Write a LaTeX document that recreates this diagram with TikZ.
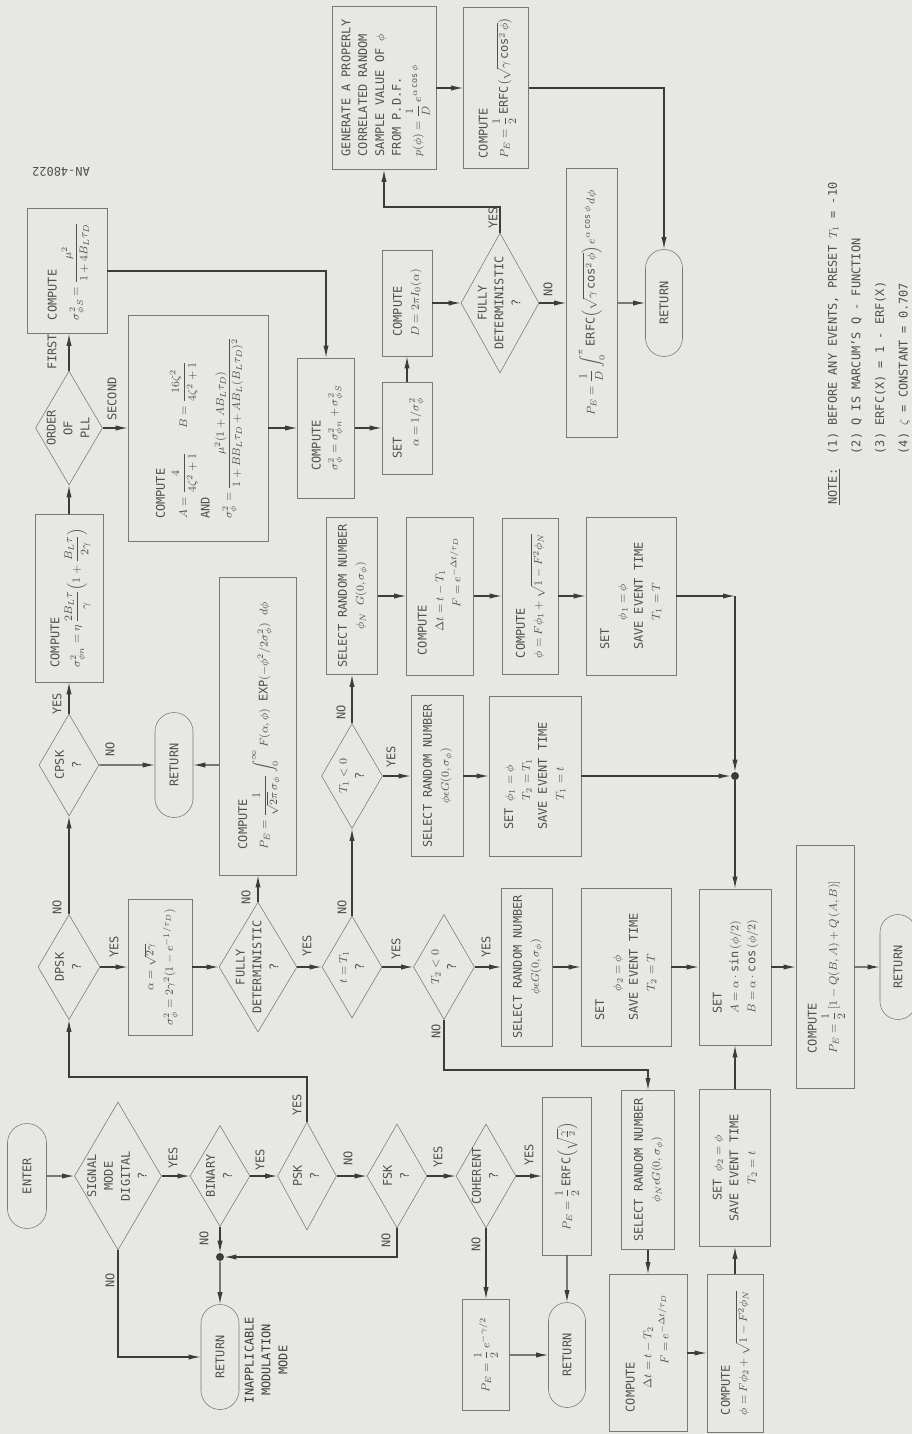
\documentclass[tikz,border=0pt]{standalone}
\usepackage{fontspec}
\usepackage{amsmath}
\setmainfont{DejaVu Sans Mono}
\usetikzlibrary{shapes.geometric,shapes.misc,arrows.meta}
\definecolor{paper}{RGB}{231,231,228}
\definecolor{ink}{RGB}{60,60,60}
\definecolor{frame}{RGB}{120,120,120}
\definecolor{txt}{RGB}{80,80,80}
\newcommand{\ctab}[1]{\begin{tabular}{@{}c@{}}#1\end{tabular}}
\newcommand{\ltab}[1]{\begin{tabular}{@{}l@{}}#1\end{tabular}}

\begin{document}
\begin{tikzpicture}
                [x=0.025cm, y=-0.025cm,
                every node/.style={font=\fontsize{8.5}{12}\selectfont, text=txt},
                sz/.style 2 args={minimum height=#1*0.025cm, minimum width=#2*0.025cm},
                box/.style={rectangle, draw=frame, thin, rotate=90, inner sep=2pt},
                term/.style={rounded rectangle, draw=frame, thin, rotate=90, inner sep=0pt},
                dia/.style={diamond, draw=frame, thin, rotate=90, inner sep=0pt},
                lab/.style={rotate=90, inner sep=0pt},
                dot/.style={circle, fill=ink, inner sep=0pt, minimum size=2mm},
                arrow/.style={->, >={Latex[length=3mm,width=1.3mm]}, draw=ink, line width=0.8pt},
                ]
                \useasboundingbox (0,0) rectangle (912,1434);
                \fill[paper] (0,0) rectangle (912,1434);

                % entry column
                \node[term, sz={39}{105}] (enter) at (27,1176) {ENTER};
                \node[dia, sz={87}{148}] (sig) at (118,1176) {};
                \node[lab] (sigt) at (sig) {\ctab{SIGNAL\\MODE\\DIGITAL\\?}};
                \node[dia, sz={60}{101}] (bin) at (220,1176) {};
                \node[lab] (bint) at (bin) {\ctab{BINARY\\?}};
                \node[dia, sz={59}{108}] (psk) at (307,1176) {};
                \node[lab] (pskt) at (psk) {\ctab{PSK\\?}};
                \node[dia, sz={60}{104}] (fsk) at (397,1176) {};
                \node[lab] (fskt) at (fsk) {\ctab{FSK\\?}};
                \node[dia, sz={60}{104}] (coh) at (486,1176) {};
                \node[lab] (coht) at (coh) {\ctab{COHERENT\\?}};
                \node[box, sz={49}{158}] (pe1) at (567,1176) {$P_E = \dfrac{1}{2}\,\text{ERFC}\Bigl(\sqrt{\tfrac{\gamma}{2}}\Bigr)$};
                \node[box, sz={47}{111}] (pe0) at (486,1355) {$P_E = \dfrac{1}{2}\,e^{-\gamma/2}$};
                \node[term, sz={37}{105}] (ret2) at (567,1355) {RETURN};
                \node[dot] (j1) at (220,1257) {};
                \node[term, sz={38}{105}] (ret1) at (220,1357) {RETURN};
                \node[lab, text=ink] (inap) at (267,1360) {\ctab{INAPPLICABLE\\MODULATION\\MODE}};
                \coordinate (c0) at (307,1077);

                % DPSK row
                \node[dia, sz={62}{105}] (dpsk) at (69,967) {};
                \node[lab] (dpskt) at (dpsk) {\ctab{DPSK\\?}};
                \node[box, sz={64}{136}] (dp) at (160,967) {\ctab{$\alpha = \sqrt{2\gamma}$\\[2pt]$\sigma_\phi^2 = 2\gamma^2(1-e^{-1/\tau_D})$}};
                \node[dia, sz={78}{130}] (det1) at (258,967) {};
                \node[lab] (det1t) at (det1) {\ctab{FULLY\\DETERMINISTIC\\?}};
                \node[dia, sz={60}{102}] (teq) at (352,967) {};
                \node[lab] (teqt) at (teq) {\ctab{$t = T_1$\\?}};
                \node[dia, sz={61}{105}] (ttwo) at (444,967) {};
                \node[lab] (ttwot) at (ttwo) {\ctab{$T_2 < 0$\\?}};
                \node[box, sz={51}{158}] (sel2) at (527,967) {\ctab{SELECT RANDOM NUMBER\\$\phi\epsilon G(0,\sigma_\phi)$}};
                \node[box, sz={90}{158}] (setp2) at (626,967) {\ltab{SET\\\hspace*{2.5em}$\phi_2 = \phi$\\SAVE EVENT TIME\\\hspace*{2.5em}$T_2 = T$}};
                \node[box, sz={72}{156}] (seta) at (735,967) {\ltab{SET\\$A = \alpha\cdot\sin\,(\phi/2)$\\$B = \alpha\cdot\cos\,(\phi/2)$}};
                \node[box, sz={58}{243}] (pe3) at (825,967) {\ltab{COMPUTE\\$P_E = \dfrac{1}{2}\,[1 - Q(B,A) + Q\,(A,B)]$}};
                \node[term, sz={36}{105}] (ret5) at (898,967) {RETURN};
                \coordinate (c2) at (444,1070);

                % CPSK and T1 row
                \node[dia, sz={60}{102}] (cpsk) at (69,765) {};
                \node[lab] (cpskt) at (cpsk) {\ctab{CPSK\\?}};
                \node[term, sz={38}{105}] (ret3) at (174,765) {RETURN};
                \node[box, sz={77}{298}] (pe2) at (258,726) {\ltab{COMPUTE\\$P_E = \dfrac{1}{\sqrt{2\pi}\,\sigma_\phi}\displaystyle\int_0^{\infty} F(\alpha,\phi)\ \text{EXP}(-\phi^2/2\sigma_\phi^2)\ d\phi$}};
                \node[dia, sz={61}{105}] (tone) at (352,776) {};
                \node[lab] (tonet) at (tone) {\ctab{$T_1 < 0$\\?}};
                \node[box, sz={52}{161}] (sel1) at (437,776) {\ctab{SELECT RANDOM NUMBER\\$\phi\epsilon G(0,\sigma_\phi)$}};
                \node[box, sz={92}{160}] (set3) at (535,776) {\ltab{SET $\phi_1 = \phi$\\\hspace*{2.5em}$T_2 = T_1$\\SAVE EVENT TIME\\\hspace*{2.5em}$T_1 = t$}};
                \node[dot] (j2) at (735,776) {};

                \node[box, sz={68}{168}] (sn) at (69,598) {\ltab{COMPUTE\\$\sigma_{\phi n}^2 = \eta\,\dfrac{2B_L\tau}{\gamma}\Bigl(1+\dfrac{B_L\tau}{2\gamma}\Bigr)$}};
                \node[box, sz={51}{157}] (sel3) at (352,596) {\ctab{SELECT RANDOM NUMBER\\$\phi_N\ G(0,\sigma_\phi)$}};
                \node[box, sz={67}{158}] (dt1) at (440,596) {\ltab{COMPUTE\\\hspace*{2em}$\Delta t = t - T_1$\\\hspace*{4em}$F = e^{-\Delta t/\tau_D}$}};
                \node[box, sz={56}{156}] (phi1) at (530,596) {\ltab{COMPUTE\\$\phi = F\phi_1 + \sqrt{1-F^2\phi_N}$}};
                \node[box, sz={90}{158}] (set1) at (631,596) {\ltab{SET\\\hspace*{2.5em}$\phi_1 = \phi$\\SAVE EVENT TIME\\\hspace*{2.5em}$T_1 = T$}};
                \coordinate (c1) at (735,596);

                % PLL part
                \node[dia, sz={67}{114}] (pll) at (69,428) {};
                \node[lab] (pllt) at (pll) {\ctab{ORDER\\OF\\PLL}};
                \node[box, sz={140}{226}] (ab) at (198,428) {\ltab{COMPUTE\\$A = \dfrac{4}{4\zeta^2+1}$\qquad$B = \dfrac{16\zeta^2}{4\zeta^2+1}$\\[3pt]AND\\$\sigma_\phi^2 = \dfrac{\mu^2(1+AB_L\tau_D)}{1+BB_L\tau_D+AB_L(B_L\tau_D)^2}$}};
                \node[box, sz={57}{140}] (sig2) at (326,428) {\ltab{COMPUTE\\$\sigma_\phi^2 = \sigma_{\phi n}^2 + \sigma_{\phi S}^2$}};
                \node[box, sz={50}{92}] (alph) at (407,428) {\ltab{SET\\\hspace*{1em}$\alpha = 1/\sigma_\phi^2$}};
                \node[box, sz={80}{125}] (ss) at (67,271) {\ltab{COMPUTE\\$\sigma_{\phi S}^2 = \dfrac{\mu^2}{1+4B_L\tau_D}$}};
                \node[box, sz={50}{106}] (dbox) at (407,303) {\ltab{COMPUTE\\$D = 2\pi I_0(\alpha)$}};
                \node[dia, sz={78}{140}] (det2) at (500,303) {};
                \node[lab] (det2t) at (det2) {\ctab{FULLY\\DETERMINISTIC\\?}};
                \node[box, sz={51}{269}] (pe5) at (592,303) {$P_E = \dfrac{1}{D}\displaystyle\int_0^{\pi}\text{ERFC}\Bigl(\sqrt{\gamma\cos^2\phi}\Bigr)\,e^{\alpha\cos\phi}\,d\phi$};
                \node[term, sz={37}{107}] (ret4) at (664,303) {RETURN};
                \node[box, sz={104}{163}] (gen) at (384,88) {\ltab{GENERATE A PROPERLY\\CORRELATED RANDOM\\SAMPLE VALUE OF $\phi$\\FROM P.D.F.\\$p(\phi) = \dfrac{1}{D}\,e^{\alpha\cos\phi}$}};
                \node[box, sz={65}{161}] (pe4) at (496,88) {\ltab{COMPUTE\\$P_E = \dfrac{1}{2}\,\text{ERFC}\bigl(\sqrt{\gamma\cos^2\phi}\bigr)$}};
                \coordinate (c3) at (500,207);

                % T2 branch
                \node[box, sz={53}{159}] (sel4) at (648,1170) {\ctab{SELECT RANDOM NUMBER\\$\phi_N\epsilon G(0,\sigma_\phi)$}};
                \node[box, sz={71}{157}] (set2) at (735,1168) {\ctab{SET $\phi_2 = \phi$\\SAVE EVENT TIME\\$T_2 = t$}};
                \node[box, sz={78}{157}] (dt2) at (648,1353) {\ltab{COMPUTE\\\hspace*{2em}$\Delta t = t - T_2$\\\hspace*{4em}$F = e^{-\Delta t/\tau_D}$}};
                \node[box, sz={56}{158}] (phi2) at (735,1353) {\ltab{COMPUTE\\$\phi = F\phi_2 + \sqrt{1-F^2\phi_N}$}};

                % connectors
                \draw[arrow] (enter) -- (sig);
                \draw[arrow] (sig) -- (bin);
                \draw[arrow] (bin) -- (psk);
                \draw[arrow] (psk) -- (fsk);
                \draw[arrow] (fsk) -- (coh);
                \draw[arrow] (coh) -- (pe1);
                \draw[arrow] (coh) -- (pe0);
                \draw[arrow] (pe1) -- (ret2);
                \draw[arrow] (pe0) -- (ret2);
                \draw[arrow] (sig) |- (ret1);
                \draw[arrow] (bin) -- (j1);
                \draw[arrow] (fsk) |- (j1);
                \draw[arrow] (j1) -- (ret1);
                \draw[arrow] (psk) -- (c0) -| (dpsk);

                \draw[arrow] (dpsk) -- (dp);
                \draw[arrow] (dp) -- (det1);
                \draw[arrow] (det1) -- (teq);
                \draw[arrow] (teq) -- (ttwo);
                \draw[arrow] (ttwo) -- (sel2);
                \draw[arrow] (sel2) -- (setp2);
                \draw[arrow] (setp2) -- (seta);
                \draw[arrow] (seta) -- (pe3);
                \draw[arrow] (pe3) -- (ret5);
                \draw[arrow] (ttwo) -- (c2) -| (sel4);
                \draw[arrow] (sel4) -- (dt2);
                \draw[arrow] (dt2) -- (phi2);
                \draw[arrow] (phi2) -- (set2);
                \draw[arrow] (set2) -- (seta);
                \draw[arrow] (det1) -- (det1 |- pe2.west);

                \draw[arrow] (dpsk) -- (cpsk);
                \draw[arrow] (cpsk) -- (ret3);
                \draw[arrow] (pe2.north |- ret3) -- (ret3);
                \draw[arrow] (teq) -- (tone);
                \draw[arrow] (tone) -- (sel1);
                \draw[arrow] (sel1) -- (set3);
                \draw[arrow] (set3) -- (j2);
                \draw[arrow] (tone) -- (sel3);
                \draw[arrow] (sel3) -- (dt1);
                \draw[arrow] (dt1) -- (phi1);
                \draw[arrow] (phi1) -- (set1);
                \draw[arrow] (set1) -- (c1);
                \draw[arrow] (c1) -- (j2);
                \draw[arrow] (j2) -- (seta);

                \draw[arrow] (cpsk) -- (sn);
                \draw[arrow] (sn) -- (pll);
                \draw[arrow] (pll) -- (pll |- ss.west);
                \draw[arrow] (pll) -- (ab);
                \draw[arrow] (ab) -- (sig2);
                \draw[arrow] (ss) -| (sig2);
                \draw[arrow] (sig2) -- (alph);
                \draw[arrow] (alph) -- (dbox);
                \draw[arrow] (dbox) -- (det2);
                \draw[arrow] (det2) -- (c3) -| (gen);
                \draw[arrow] (det2) -- (pe5);
                \draw[arrow] (pe5) -- (ret4);
                \draw[arrow] (gen) -- (pe4);
                \draw[arrow] (pe4) -| (ret4);

                % branch labels
                \node[lab] (ysig) at (173,1158) {YES};
                \node[lab] (nsig) at (110,1280) {NO};
                \node[lab] (ybin) at (260,1160) {YES};
                \node[lab] (nbin) at (204,1238) {NO};
                \node[lab] (ypsk) at (297,1105) {YES};
                \node[lab] (npsk) at (348,1158) {NO};
                \node[lab] (yfsk) at (438,1157) {YES};
                \node[lab] (nfsk) at (386,1240) {NO};
                \node[lab] (ycoh) at (529,1155) {YES};
                \node[lab] (ncoh) at (476,1244) {NO};
                \node[lab] (ydpsk) at (114,947) {YES};
                \node[lab] (ndpsk) at (57,907) {NO};
                \node[lab] (ncpsk) at (110,749) {NO};
                \node[lab] (ycpsk) at (57,704) {YES};
                \node[lab] (ndet1) at (246,897) {NO};
                \node[lab] (ydet1) at (307,946) {YES};
                \node[lab] (nteq) at (342,907) {NO};
                \node[lab] (yteq) at (396,949) {YES};
                \node[lab] (ytone) at (391,757) {YES};
                \node[lab] (ntone) at (341,712) {NO};
                \node[lab] (yttwo) at (486,947) {YES};
                \node[lab] (nttwo) at (436,1031) {NO};
                \node[lab] (first) at (52,352) {FIRST};
                \node[lab] (second) at (112,399) {SECOND};
                \node[lab] (ydet2) at (493,218) {YES};
                \node[lab] (ndet2) at (548,289) {NO};

                % notes
                \node[lab, anchor=north west] (notes) at (820,505) {\renewcommand{\arraystretch}{1.4}\begin{tabular}{@{}l@{\ \ }l@{}}
                \underline{NOTE:} & (1) BEFORE ANY EVENTS, PRESET $T_1$ = -10\\
                 & (2) Q IS MARCUM'S Q - FUNCTION\\
                 & (3) ERFC(X) = 1 - ERF(X)\\
                 & (4) $\zeta$ = CONSTANT = 0.707\end{tabular}};
                \node[rotate=180] (docno) at (61,172) {AN-48022};
            \end{tikzpicture}
\end{document}
